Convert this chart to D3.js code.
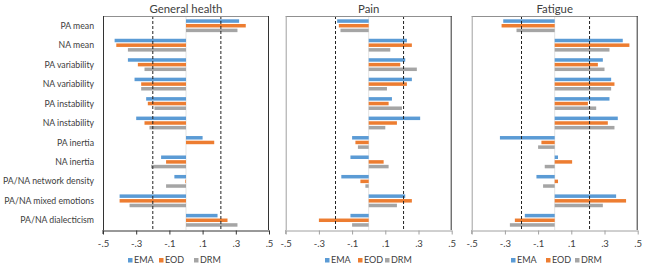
<!DOCTYPE html>
<html>
<head>
<meta charset="utf-8">
<script src="https://d3js.org/d3.v7.min.js"></script>
<style>
body { margin:0; background:#fff; }
text { font-family: Lato, "Liberation Sans", Arial, sans-serif; fill:#404040; }
</style>
</head>
<body>
<script>
var categories = ["PA mean","NA mean","PA variability","NA variability","PA instability","NA instability",
                  "PA inertia","NA inertia","PA/NA network density","PA/NA mixed emotions","PA/NA dialecticism"];
var seriesNames = ["EMA","EOD","DRM"];
var colors = ["#5B9BD5","#ED7D31","#A5A5A5"];
var panelTitles = ["General health","Pain","Fatigue"];
var tickValues = [-0.5,-0.3,-0.1,0.1,0.3,0.5];
var tickLabels = ["-.5","-.3","-.1",".1",".3",".5"];
var refLines = [-0.2, 0.21];

// [EMA, EOD, DRM] per category
var generalHealth = [
  [0.32,0.36,0.31],[-0.43,-0.42,-0.35],[-0.35,-0.29,-0.25],[-0.31,-0.27,-0.27],
  [-0.24,-0.23,-0.19],[-0.30,-0.25,-0.22],[0.10,0.17,0],[-0.15,-0.12,-0.21],
  [-0.07,-0.004,-0.12],[-0.40,-0.40,-0.34],[0.19,0.25,0.31]];
var pain = [
  [-0.19,-0.18,-0.17],[0.23,0.26,0.13],[0.22,0.19,0.29],[0.26,0.23,0.11],
  [0.14,0.12,0.20],[0.31,0.17,0.10],[-0.10,-0.08,-0.065],[-0.11,0.09,0.12],
  [-0.165,-0.05,-0.02],[0.22,0.26,0.17],[-0.11,-0.30,-0.10]];
var fatigue = [
  [-0.31,-0.32,-0.23],[0.41,0.45,0.33],[0.29,0.26,0.30],[0.34,0.36,0.34],
  [0.33,0.20,0.25],[0.38,0.32,0.36],[-0.33,-0.08,-0.10],[0.02,0.105,-0.06],
  [-0.11,0.02,-0.07],[0.37,0.43,0.29],[-0.18,-0.24,-0.27]];
var panelData = [generalHealth, pain, fatigue];

var svg = d3.select("body").append("svg").attr("width",650).attr("height",270);

// pick a font size so a string comes out at the width seen in the picture
function fitSize(str, target){
  var t = svg.append("text").style("font-size","10px").text(str);
  var w = t.node().getComputedTextLength();
  t.remove();
  return (10*target/w).toFixed(2)+"px";
}
var labelSize = fitSize("PA/NA network density", 91);
var titleSize = fitSize("General health", 73);
var tickSize = "9.5px", legendSize = "9px";

var panelLeft = [103, 285.7, 471.7];
var panelW = 166, plotTop = 16, plotBottom = 230;
var legendX = [[128,159,194],[325,358,385],[511,546,575]];

var y = d3.scaleBand().domain(categories).range([plotTop,plotBottom]).paddingInner(0.34).paddingOuter(0.17);
var ySub = d3.scaleBand().domain(seriesNames).range([0,y.bandwidth()]).paddingInner(0.25);

// category labels
svg.append("g").selectAll("text").data(categories).enter().append("text")
  .attr("x",94).attr("y",function(d){return y(d)+y.bandwidth()/2;})
  .attr("dy","0.35em").attr("text-anchor","end").style("font-size",labelSize).text(function(d){return d;});

panelData.forEach(function(data,p){
  var x = d3.scaleLinear().domain([-0.5,0.5]).range([panelLeft[p],panelLeft[p]+panelW]);
  var g = svg.append("g");
  var first = p===0;

  // zero line
  g.append("line").attr("x1",x(0)).attr("x2",x(0)).attr("y1",plotTop).attr("y2",plotBottom)
    .attr("stroke","#e3e3e3").attr("stroke-width",1);

  // bars
  data.forEach(function(vals,i){
    g.selectAll(null).data(vals).enter().append("rect")
      .attr("x",function(v){return x(Math.min(0,v));})
      .attr("width",function(v){return Math.abs(x(v)-x(0));})
      .attr("y",function(v,j){return y(categories[i])+ySub(seriesNames[j]);})
      .attr("height",ySub.bandwidth())
      .attr("fill",function(v,j){return colors[j];});
  });

  // dashed reference lines
  g.selectAll(null).data(refLines).enter().append("line")
    .attr("x1",function(d){return x(d);}).attr("x2",function(d){return x(d);})
    .attr("y1",plotTop).attr("y2",plotBottom)
    .attr("stroke","#222").attr("stroke-width",1).attr("stroke-dasharray","3,2");

  // frame
  g.append("line").attr("x1",x(-0.5)).attr("x2",x(0.5)).attr("y1",plotTop+0.5).attr("y2",plotTop+0.5)
    .attr("stroke","#909090");
  g.append("line").attr("x1",x(-0.5)+0.5).attr("x2",x(-0.5)+0.5).attr("y1",plotTop).attr("y2",plotBottom)
    .attr("stroke",first?"#333":"#a0a0a0");
  g.append("line").attr("x1",x(0.5)-0.5).attr("x2",x(0.5)-0.5).attr("y1",plotTop).attr("y2",plotBottom)
    .attr("stroke","#333");

  // bottom axis
  var axis = d3.axisBottom(x).tickValues(tickValues).tickSize(4).tickSizeOuter(0)
    .tickFormat(function(d,i){return tickLabels[i];});
  var ax = g.append("g").attr("transform","translate(0,"+(plotBottom+0.5)+")").call(axis);
  ax.select(".domain").attr("stroke",first?"#333":"#a0a0a0");
  ax.selectAll(".tick line").attr("stroke",first?"#333":"#a0a0a0");
  ax.selectAll(".tick text").style("font-size",tickSize).attr("fill","#404040")
    .attr("font-family",null).attr("y",9.5);
  g.append("line").attr("x1",x(-0.5)).attr("x2",x(-0.5)).attr("y1",plotBottom).attr("y2",plotBottom+4)
    .attr("stroke",first?"#333":"#a0a0a0");

  // title
  g.append("text").attr("x",x(0)).attr("y",9).attr("dy","0.35em").attr("text-anchor","middle")
    .style("font-size",titleSize).attr("fill","#202020").text(panelTitles[p]);

  // legend
  var lg = g.append("g");
  seriesNames.forEach(function(s,j){
    lg.append("rect").attr("x",legendX[p][j]).attr("y",258).attr("width",4.5).attr("height",4.5).attr("fill",colors[j]);
    lg.append("text").attr("x",legendX[p][j]+6).attr("y",260.3).attr("dy","0.35em")
      .style("font-size",legendSize).text(s);
  });
});
</script>
</body>
</html>
